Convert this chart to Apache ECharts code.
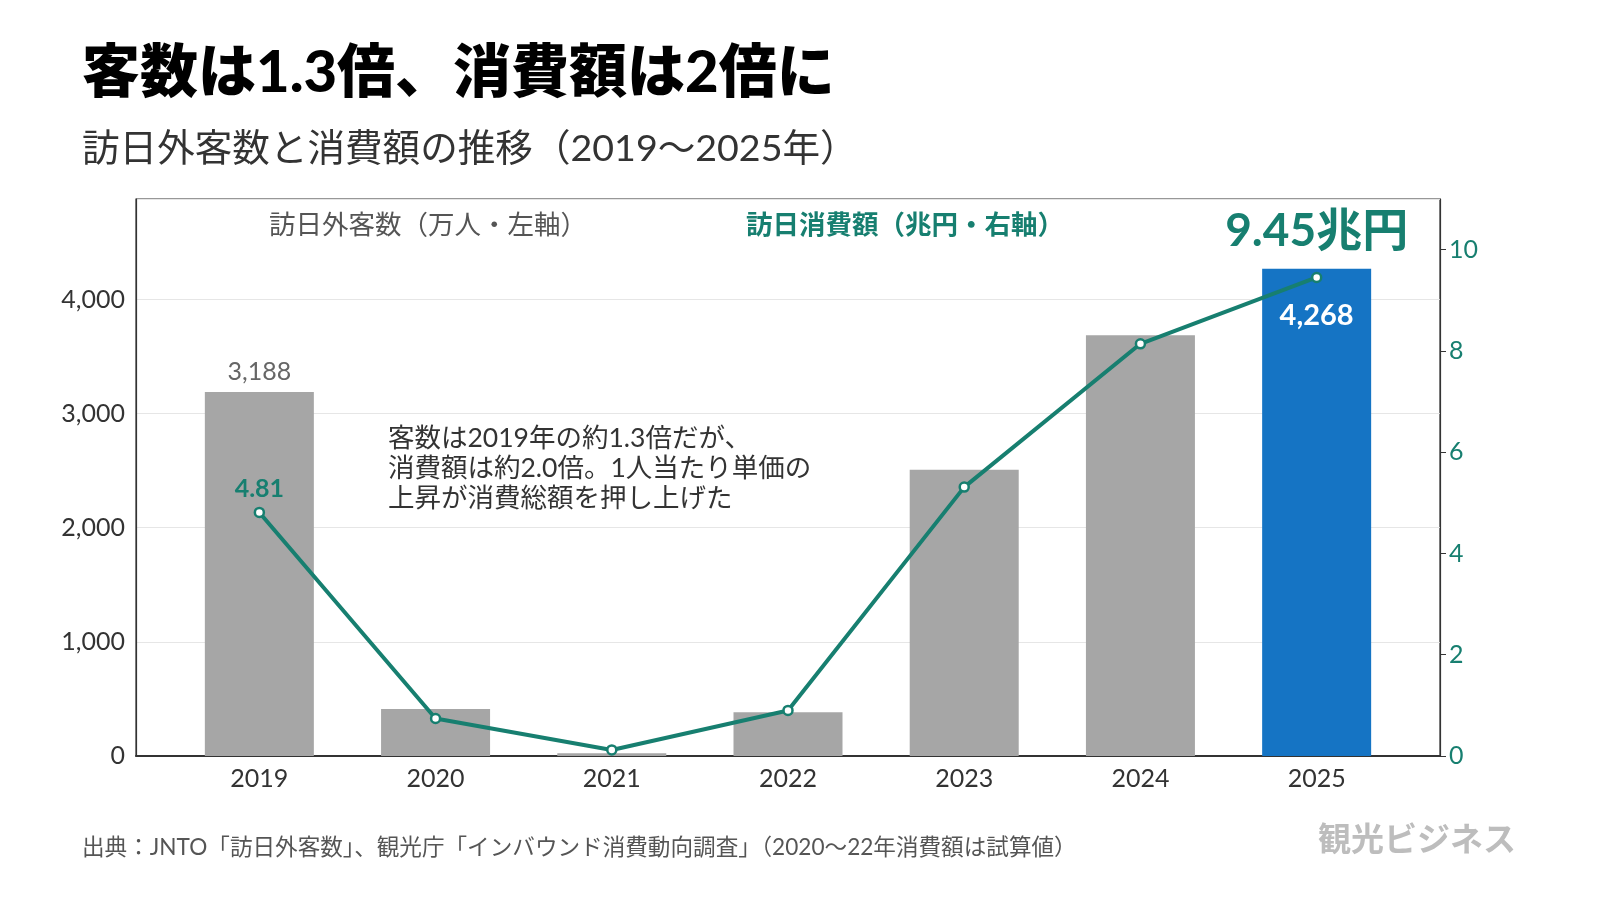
<!DOCTYPE html>
<html>
<head>
<meta charset="utf-8">
<script src="https://cdn.jsdelivr.net/npm/echarts@6/dist/echarts.min.js"></script>
<style>
  html, body { margin: 0; padding: 0; background: #fff; }
  #chart { width: 1600px; height: 900px; }
</style>
</head>
<body>
<div id="chart"></div>
<script>
const FONT = 'Lato, "Noto Sans CJK JP", sans-serif';
const TEAL = '#177f70';

const years = ['2019', '2020', '2021', '2022', '2023', '2024', '2025'];
// 訪日外客数（万人）
const visitors = [3188, 412, 25, 383, 2507, 3687, 4268];
// 訪日消費額（兆円）
const spending = [4.81, 0.74, 0.12, 0.90, 5.31, 8.14, 9.45];
const rightTicks = [0, 2, 4, 6, 8, 10];

const chart = echarts.init(document.getElementById('chart'));

// x軸は年の並び順（0〜6）を値として扱い、左右に余白を持たせる
const yearIdx = years.map((y, i) => i);

const barData = visitors.map((v, i) => {
  const last = i === visitors.length - 1;
  const item = { value: [i, v], itemStyle: { color: last ? '#1574c4' : '#a6a6a6' } };
  if (i === 0) {
    item.label = { show: true, position: 'top', distance: 8, color: '#666', fontSize: 25 };
  }
  if (last) {
    item.label = {
      show: true, position: 'insideTop', distance: 32,
      color: '#fff', fontSize: 29, fontWeight: 'bold'
    };
  }
  return item;
});

const lineData = spending.map((v, i) => {
  const item = { value: [i, v] };
  if (i === 0) {
    item.label = {
      show: true, position: 'top', distance: 5,
      color: TEAL, fontSize: 25, fontWeight: 'bold',
      formatter: (p) => p.value[1].toFixed(2)
    };
  }
  if (i === spending.length - 1) {
    item.label = {
      show: true, position: 'top', distance: 18,
      color: TEAL, fontSize: 46, fontWeight: 'bold',
      formatter: (p) => p.value[1].toFixed(2) + '兆円'
    };
  }
  return item;
});

chart.setOption({
  animation: false,
  textStyle: { fontFamily: FONT },
  grid: {
    left: 136, right: 160, top: 199, bottom: 144,
    show: true, borderColor: '#333', borderWidth: 1.2
  },
  xAxis: {
    type: 'value',
    min: -0.7, max: 6.7,
    axisLine: { show: true, onZero: false, lineStyle: { color: '#333', width: 2 } },
    axisTick: { show: false },
    splitLine: { show: false },
    axisLabel: {
      color: '#333', fontSize: 25, margin: 10, fontFamily: FONT,
      customValues: yearIdx,
      formatter: (v) => years[Math.round(v)]
    }
  },
  yAxis: [{
    type: 'value',
    min: 0, max: 4880, interval: 1000,
    axisLine: { show: true, onZero: false, lineStyle: { color: '#333', width: 1.2 } },
    axisTick: { show: false },
    axisLabel: {
      color: '#333', fontSize: 25, margin: 11, fontFamily: FONT, showMaxLabel: false,
      formatter: (v) => v.toLocaleString('en-US')
    },
    splitLine: { lineStyle: { color: '#e6e6e6', width: 1.2 } }
  }, {
    type: 'value',
    min: 0, max: 11,
    axisLine: { show: true, onZero: false, lineStyle: { color: '#333', width: 1.2 } },
    axisTick: { show: true, length: 6, customValues: rightTicks, lineStyle: { color: '#333' } },
    axisLabel: { color: TEAL, fontSize: 25, margin: 9, fontFamily: FONT, customValues: rightTicks },
    splitLine: { show: false }
  }],
  series: [{
    type: 'bar',
    yAxisIndex: 0,
    data: barData,
    barWidth: 109,
    label: { fontFamily: FONT, formatter: (p) => p.value[1].toLocaleString('en-US') }
  }, {
    type: 'line',
    yAxisIndex: 1,
    data: lineData,
    symbol: 'circle',
    symbolSize: 9,
    lineStyle: { color: TEAL, width: 4 },
    itemStyle: { color: '#fff', borderColor: TEAL, borderWidth: 2.5 },
    label: { fontFamily: FONT },
    z: 3
  }],
  graphic: [{
    type: 'text', left: 82, top: 44,
    style: { text: '客数は1.3倍、消費額は2倍に', fill: '#000', font: '900 58px ' + FONT }
  }, {
    type: 'text', left: 82, top: 130,
    style: { text: '訪日外客数と消費額の推移（2019〜2025年）', fill: '#333', font: '37.6px ' + FONT }
  }, {
    type: 'text', left: 269, top: 212,
    style: { text: '訪日外客数（万人・左軸）', fill: '#555', font: '26.5px ' + FONT }
  }, {
    type: 'text', left: 746, top: 212,
    style: { text: '訪日消費額（兆円・右軸）', fill: TEAL, font: 'bold 26.5px ' + FONT }
  }, {
    type: 'text', left: 388, top: 423,
    style: {
      text: '客数は2019年の約1.3倍だが、\n消費額は約2.0倍。1人当たり単価の\n上昇が消費総額を押し上げた',
      fill: '#333', font: '26.5px ' + FONT, lineHeight: 30
    }
  }, {
    type: 'text', left: 82, top: 836,
    style: {
      text: '出典：JNTO「訪日外客数」、観光庁「インバウンド消費動向調査」（2020〜22年消費額は試算値）',
      fill: '#555', font: '22.6px ' + FONT
    }
  }, {
    type: 'text', left: 1318, top: 824,
    style: { text: '観光ビジネス', fill: '#bdbdbd', font: 'bold 33px ' + FONT }
  }]
});
</script>
</body>
</html>
